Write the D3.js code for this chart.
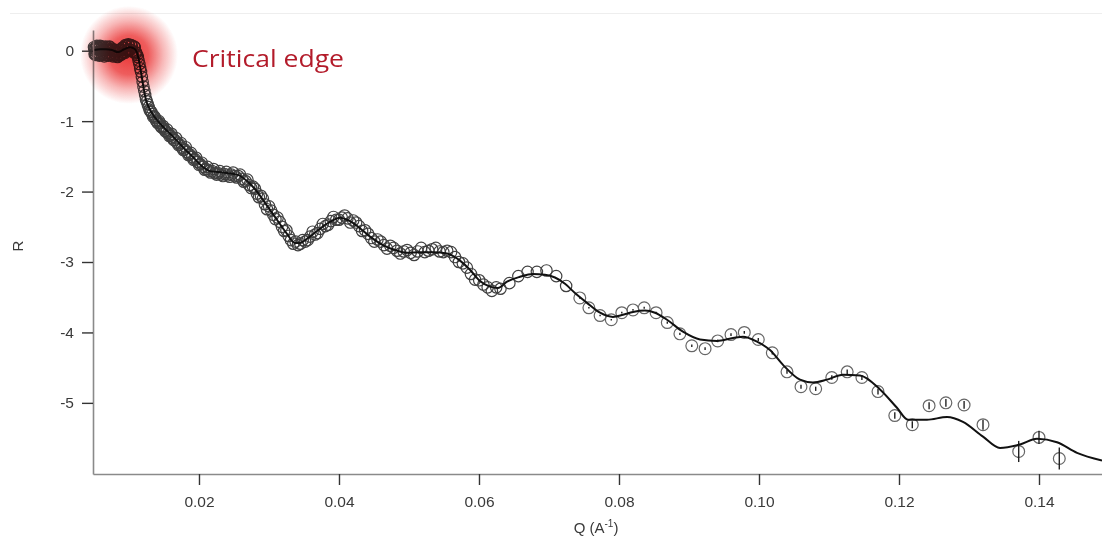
<!DOCTYPE html>
<html>
<head>
<meta charset="utf-8">
<script src="https://cdn.jsdelivr.net/npm/d3@7"></script>
<style>
  html, body { margin: 0; padding: 0; background: #fff; }
  svg { display: block; }
</style>
</head>
<body>
<div id="chart"></div>
<script>
// measured points, low Q, run 1
const qDense = [0.00500,0.00510,0.00520,0.00531,0.00541,0.00552,0.00563,0.00574,0.00586,0.00598,
  0.00609,0.00622,0.00634,0.00647,0.00660,0.00673,0.00686,0.00700,0.00714,0.00728,
  0.00743,0.00758,0.00773,0.00789,0.00804,0.00820,0.00837,0.00854,0.00871,0.00888,
  0.00906,0.00924,0.00942,0.00961,0.00980,0.01000,0.01020,0.01040,0.01061,0.01082,
  0.01104,0.01126,0.01149,0.01172,0.01195,0.01219,0.01243,0.01268,0.01294,0.01319,
  0.01346,0.01373,0.01400,0.01428,0.01457,0.01486,0.01516,0.01546,0.01577,0.01608,
  0.01641,0.01673,0.01707,0.01741,0.01776,0.01811,0.01848,0.01885,0.01922,0.01961,
  0.02000,0.02040,0.02081,0.02122,0.02165,0.02208,0.02252,0.02297,0.02343,0.02390,
  0.02438,0.02487,0.02536,0.02587,0.02639,0.02692,0.02745,0.02800,0.02856,0.02913,
  0.02972,0.03031,0.03092,0.03154,0.03217,0.03281,0.03347,0.03414,0.03482,0.03552,
  0.03623,0.03695,0.03769,0.03845,0.03921,0.04000,0.04080,0.04161,0.04245,0.04330,
  0.04416,0.04505,0.04595,0.04686,0.04780,0.04876,0.04973,0.05073,0.05174,0.05278,
  0.05383,0.05491,0.05601,0.05713,0.05827,0.05944,0.06063,0.06184,0.06307,0.06434,
  0.06562,0.06694,0.06827,0.06964,0.07103,0.07245]
const rDense = [0.05,-0.05,0.02,-0.06,0.07,-0.02,0.04,-0.06,0.07,0.00,
  -0.05,0.05,0.01,-0.08,0.04,-0.03,0.05,-0.06,0.01,0.05,
  -0.05,0.01,-0.08,0.00,-0.05,-0.02,-0.09,0.00,-0.06,0.01,
  -0.03,0.04,-0.03,0.07,0.00,0.08,0.01,0.07,-0.02,0.05,
  -0.03,-0.09,-0.19,-0.30,-0.44,-0.57,-0.69,-0.76,-0.84,-0.87,
  -0.94,-0.95,-1.01,-1.00,-1.08,-1.07,-1.14,-1.12,-1.21,-1.18,
  -1.27,-1.24,-1.34,-1.31,-1.41,-1.37,-1.48,-1.45,-1.55,-1.52,
  -1.62,-1.59,-1.69,-1.65,-1.73,-1.68,-1.76,-1.71,-1.78,-1.72,
  -1.79,-1.73,-1.80,-1.76,-1.86,-1.83,-1.95,-1.96,-2.08,-2.10,
  -2.25,-2.27,-2.39,-2.43,-2.56,-2.63,-2.74,-2.76,-2.69,-2.69,
  -2.57,-2.59,-2.46,-2.47,-2.36,-2.40,-2.34,-2.44,-2.44,-2.56,
  -2.60,-2.71,-2.71,-2.81,-2.80,-2.88,-2.83,-2.90,-2.80,-2.84,
  -2.80,-2.86,-2.86,-3.00,-3.08,-3.25,-3.32,-3.41,-3.38,-3.30,
  -3.20,-3.14,-3.14,-3.12,-3.20,-3.34]

// measured points, low Q, run 2
const qDense2 = [0.00505,0.00515,0.00525,0.00536,0.00546,0.00558,0.00569,0.00580,0.00592,0.00604,
  0.00615,0.00628,0.00640,0.00653,0.00667,0.00680,0.00693,0.00707,0.00721,0.00735,
  0.00750,0.00766,0.00781,0.00797,0.00812,0.00828,0.00845,0.00863,0.00880,0.00897,
  0.00915,0.00933,0.00951,0.00971,0.00990,0.01010,0.01030,0.01050,0.01072,0.01093,
  0.01115,0.01137,0.01160,0.01184,0.01207,0.01231,0.01255,0.01281,0.01307,0.01332,
  0.01359,0.01387,0.01414,0.01442,0.01472,0.01501,0.01531,0.01561,0.01593,0.01624,
  0.01657,0.01690,0.01724,0.01758,0.01794,0.01829,0.01866,0.01904,0.01941,0.01981,
  0.02020,0.02060,0.02102,0.02143,0.02187,0.02230,0.02275,0.02320,0.02366,0.02414,
  0.02462,0.02512,0.02561,0.02613,0.02665,0.02719,0.02772,0.02828,0.02885,0.02942,
  0.03002,0.03061,0.03123,0.03186,0.03249,0.03314,0.03380,0.03448,0.03517,0.03588,
  0.03659,0.03732,0.03807,0.03883,0.03960,0.04040,0.04121,0.04203,0.04287,0.04373,
  0.04460,0.04550,0.04641,0.04733,0.04828,0.04925,0.05023,0.05124,0.05226,0.05331,
  0.05437,0.05546,0.05657,0.05770,0.05885,0.06003,0.06124,0.06246]
const rDense2 = [0.03,-0.04,0.04,-0.03,0.06,-0.04,0.03,-0.07,0.06,-0.03,
  0.06,-0.04,0.02,-0.06,0.06,-0.04,0.03,-0.07,0.06,-0.04,
  0.03,-0.06,0.02,-0.07,0.00,-0.08,0.01,-0.07,0.02,-0.05,
  0.05,-0.02,0.08,0.01,0.09,0.02,0.08,0.00,0.06,-0.02,
  -0.06,-0.14,-0.25,-0.37,-0.51,-0.63,-0.72,-0.80,-0.86,-0.90,
  -0.93,-0.99,-1.03,-1.03,-1.09,-1.11,-1.15,-1.17,-1.20,-1.24,
  -1.27,-1.31,-1.33,-1.38,-1.40,-1.44,-1.47,-1.51,-1.54,-1.58,
  -1.61,-1.65,-1.68,-1.71,-1.71,-1.74,-1.74,-1.76,-1.75,-1.77,
  -1.76,-1.78,-1.78,-1.82,-1.85,-1.91,-1.93,-2.03,-2.06,-2.18,
  -2.21,-2.33,-2.37,-2.50,-2.55,-2.69,-2.71,-2.74,-2.71,-2.64,
  -2.61,-2.53,-2.49,-2.42,-2.40,-2.37,-2.38,-2.41,-2.49,-2.55,
  -2.66,-2.68,-2.76,-2.77,-2.84,-2.85,-2.87,-2.85,-2.86,-2.82,
  -2.85,-2.84,-2.93,-3.02,-3.17,-3.26,-3.36,-3.36]

// measured points, high Q (with error bars)
const qSparse = [0.0744,0.0757,0.0773,0.0789,0.0804,0.0820,0.0836,0.0853,0.0869,0.0887,
  0.0904,0.0923,0.0941,0.0960,0.0979,0.0999,0.1019,0.1040,0.1060,0.1081,
  0.1104,0.1126,0.1147,0.1170,0.1194,0.1219,0.1243,0.1267,0.1293,0.1320,
  0.1371,0.1400,0.1429]
const rSparse = [-3.51,-3.65,-3.76,-3.82,-3.72,-3.68,-3.65,-3.72,-3.86,-4.02,
  -4.19,-4.23,-4.12,-4.03,-4.00,-4.10,-4.29,-4.56,-4.77,-4.80,
  -4.64,-4.56,-4.64,-4.84,-5.18,-5.31,-5.04,-5.00,-5.03,-5.31,
  -5.69,-5.49,-5.79]
const errSparse = [0.01,0.01,0.01,0.012,0.012,0.012,0.014,0.014,0.015,0.016,
  0.017,0.018,0.018,0.02,0.02,0.022,0.024,0.026,0.028,0.03,
  0.032,0.034,0.036,0.04,0.045,0.05,0.05,0.055,0.055,0.07,
  0.15,0.095,0.155]

// model fit
const qFit = [0.00500,0.00586,0.00671,0.00757,0.00843,0.00929,0.01014,0.01086,0.01129,0.01157,
  0.01186,0.01214,0.01243,0.01286,0.01343,0.01414,0.01486,0.01629,0.01771,0.01914,
  0.02043,0.02157,0.02343,0.02543,0.02686,0.02829,0.02971,0.03114,0.03257,0.03371,
  0.03443,0.03543,0.03686,0.03871,0.04014,0.04157,0.04300,0.04443,0.04629,0.04800,
  0.04971,0.05157,0.05343,0.05543,0.05729,0.05871,0.06014,0.06157,0.06271,0.06400,
  0.06586,0.06771,0.06943,0.07086,0.07229,0.07371,0.07543,0.07729,0.07914,0.08057,
  0.08200,0.08371,0.08514,0.08686,0.08914,0.09157,0.09400,0.09629,0.09771,0.09971,
  0.10157,0.10343,0.10586,0.10771,0.10971,0.11200,0.11443,0.11729,0.11971,0.12129,
  0.12400,0.12686,0.12914,0.13200,0.13443,0.13729,0.13971,0.14257,0.14543,0.14900]
const rFit = [0.01,0.02,0.02,0.01,-0.02,0.02,0.05,0.02,-0.08,-0.22,
  -0.39,-0.56,-0.70,-0.81,-0.91,-1.00,-1.08,-1.22,-1.37,-1.51,
  -1.64,-1.71,-1.73,-1.76,-1.85,-2.00,-2.20,-2.40,-2.60,-2.73,
  -2.73,-2.67,-2.56,-2.43,-2.37,-2.42,-2.52,-2.64,-2.76,-2.83,
  -2.87,-2.86,-2.86,-2.88,-2.98,-3.11,-3.27,-3.35,-3.37,-3.28,
  -3.21,-3.17,-3.18,-3.22,-3.31,-3.44,-3.58,-3.72,-3.78,-3.75,
  -3.71,-3.69,-3.72,-3.82,-3.99,-4.10,-4.12,-4.08,-4.06,-4.13,
  -4.25,-4.46,-4.67,-4.71,-4.67,-4.60,-4.61,-4.81,-5.07,-5.24,
  -5.24,-5.20,-5.27,-5.48,-5.64,-5.59,-5.51,-5.56,-5.71,-5.82]

const xTicks = [0.02, 0.04, 0.06, 0.08, 0.10, 0.12, 0.14]
const yTicks = [0, -1, -2, -3, -4, -5]

const W = 1102
const H = 540

const svg = d3.select('#chart').append('svg')
    .attr('width', W)
    .attr('height', H)

const x = d3.scaleLinear().domain([0.00486, 0.149]).range([93, 1102])
const y = d3.scaleLinear().domain([-6.01, 0.294]).range([474, 30])

// faint frame line at the top
svg.append('line')
    .attr('x1', 10).attr('x2', W)
    .attr('y1', 13.5).attr('y2', 13.5)
    .attr('stroke', '#eeeeee')

const dense = qDense.map((q, i) => ({ q, r: rDense[i] }))
  .concat(qDense2.map((q, i) => ({ q, r: rDense2[i] })))
const sparse = qSparse.map((q, i) => ({ q, r: rSparse[i], e: errSparse[i] }))
const fit = qFit.map((q, i) => ({ q, r: rFit[i] }))

svg.append('g')
    .attr('fill', 'none')
    .attr('stroke', '#404040')
    .attr('stroke-width', 1.2)
  .selectAll('circle').data(dense).enter()
  .append('circle')
    .attr('cx', d => x(d.q))
    .attr('cy', d => y(d.r))
    .attr('r', 5.7)

svg.append('g')
    .attr('fill', 'none')
    .attr('stroke', '#666')
    .attr('stroke-width', 1.2)
  .selectAll('circle').data(sparse).enter()
  .append('circle')
    .attr('cx', d => x(d.q))
    .attr('cy', d => y(d.r))
    .attr('r', 5.9)

svg.append('g')
    .attr('stroke', '#222')
    .attr('stroke-width', 1.4)
  .selectAll('line').data(sparse).enter()
  .append('line')
    .attr('x1', d => x(d.q)).attr('x2', d => x(d.q))
    .attr('y1', d => y(d.r + d.e)).attr('y2', d => y(d.r - d.e) + 0.01)

const line = d3.line()
    .x(d => x(d.q))
    .y(d => y(d.r))
    .curve(d3.curveMonotoneX)

svg.append('path')
    .datum(fit)
    .attr('fill', 'none')
    .attr('stroke', '#111')
    .attr('stroke-width', 2)
    .attr('d', line)

// axes
const xAxis = svg.append('g')
    .attr('transform', 'translate(0,474)')
    .call(d3.axisBottom(x).tickValues(xTicks).tickFormat(d3.format('.2f'))
      .tickSize(11).tickSizeOuter(0).tickPadding(11))
const yAxis = svg.append('g')
    .attr('transform', 'translate(93,0)')
    .call(d3.axisLeft(y).tickValues(yTicks).tickFormat(d => String(d))
      .tickSize(11).tickSizeOuter(0).tickPadding(8))

for (const ax of [xAxis, yAxis]) {
  ax.select('.domain').attr('stroke', '#8a8a8a').attr('stroke-width', 1.6)
  ax.selectAll('.tick line').attr('stroke', '#333').attr('stroke-width', 1.4)
  ax.selectAll('.tick text')
      .attr('fill', '#3a3a3a')
      .style('font-family', '"Liberation Sans", Arial, sans-serif')
      .style('font-size', '15.5px')
}

svg.append('text')
    .attr('transform', 'translate(23,246) rotate(-90)')
    .attr('text-anchor', 'middle')
    .attr('fill', '#3a3a3a')
    .style('font-family', '"Liberation Sans", Arial, sans-serif')
    .style('font-size', '15px')
    .text('R')

const xl = svg.append('text')
    .attr('x', 596).attr('y', 533)
    .attr('text-anchor', 'middle')
    .attr('fill', '#3a3a3a')
    .style('font-family', '"Liberation Sans", Arial, sans-serif')
    .style('font-size', '15px')
xl.append('tspan').text('Q (A')
xl.append('tspan').attr('dy', -6).style('font-size', '10px').text('-1')
xl.append('tspan').attr('dy', 6).text(')')

// critical edge highlight
const defs = svg.append('defs')
const grad = defs.append('radialGradient').attr('id', 'glow')
grad.append('stop').attr('offset', '0%').attr('stop-color', '#e81e1e').attr('stop-opacity', 0.88)
grad.append('stop').attr('offset', '40%').attr('stop-color', '#e81e1e').attr('stop-opacity', 0.72)
grad.append('stop').attr('offset', '70%').attr('stop-color', '#e81e1e').attr('stop-opacity', 0.32)
grad.append('stop').attr('offset', '100%').attr('stop-color', '#e81e1e').attr('stop-opacity', 0)

svg.append('circle')
    .attr('cx', x(0.0100))
    .attr('cy', y(-0.06))
    .attr('r', 49)
    .attr('fill', 'url(#glow)')
    .style('mix-blend-mode', 'multiply')

svg.append('text')
    .attr('x', x(0.0190))
    .attr('y', y(-0.23))
    .attr('fill', '#b31b2a')
    .attr('textLength', 152)
    .attr('lengthAdjust', 'spacingAndGlyphs')
    .style('font-family', '"Open Sans", "Noto Sans", sans-serif')
    .style('font-size', '24.5px')
    .text('Critical edge')
</script>
</body>
</html>
